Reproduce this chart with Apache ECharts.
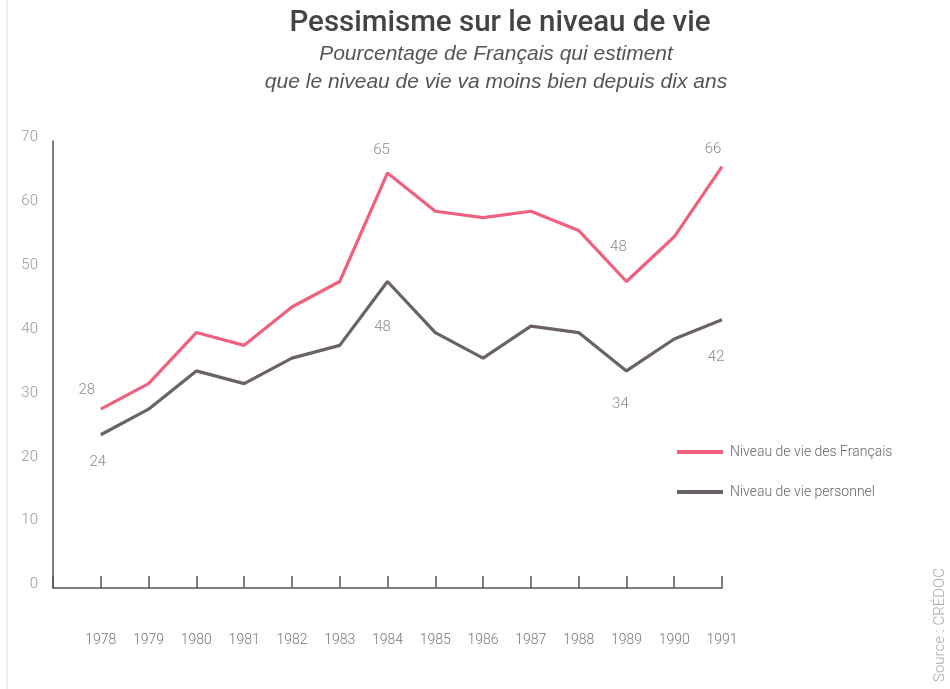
<!DOCTYPE html>
<html><head><meta charset="utf-8">
<script src="https://cdn.jsdelivr.net/npm/echarts@6/dist/echarts.min.js"></script>
<style>html,body{margin:0;padding:0;background:#fff}#c{width:950px;height:689px}</style>
</head><body><div id="c"></div>
<script>
const years = [1978,1979,1980,1981,1982,1983,1984,1985,1986,1987,1988,1989,1990,1991];
const francais = [28,32,40,38,44,48,65,59,58,59,56,48,55,66];
const personnel = [24,28,34,32,36,38,48,40,36,41,40,34,39,42];
const yTicks = [0,10,20,30,40,50,60,70];
const seriesNames = ['Niveau de vie des Français','Niveau de vie personnel'];
const titleText = 'Pessimisme sur le niveau de vie';
const subText = 'Pourcentage de Français qui estiment\nque le niveau de vie va moins bien depuis dix ans';
const sourceText = 'Source : CRÉDOC';

const font = "Roboto,'Liberation Sans',sans-serif";
const labFont = {color:'#8a8a8a', fontSize:15, fontWeight:300, fontFamily:font};

const pinkLabels = {0:{offset:[-14,-6]}, 6:{offset:[-6,-10]}, 11:{offset:[-8,-22]}, 13:{offset:[-9,-5]}};
const greyLabels = {0:{offset:[-3,15]}, 6:{offset:[-5,33]}, 11:{offset:[-6,21]}, 13:{offset:[-6,25]}};

function build(vals, lab, pos){
  return years.map((y,i)=>{
    const d = {value:[y, vals[i]]};
    if (lab[i]) d.label = Object.assign({show:true, position:pos, formatter:String(vals[i])}, labFont, lab[i]);
    return d;
  });
}

const chart = echarts.init(document.getElementById('c'), null, {renderer:'canvas'});
chart.setOption({
  backgroundColor:'#fff',
  animation:false,
  title:[{text:titleText, left:495, textAlign:'center', top:4,
    textStyle:{fontSize:29.5, fontWeight:500, color:'#444', fontFamily:"Roboto,'Liberation Sans',Arial,sans-serif"}},
    {text:subText, left:491, textAlign:'center', top:35,
    textStyle:{fontSize:21, fontStyle:'italic', fontWeight:'normal', color:'#555', lineHeight:28, fontFamily:"'Liberation Sans',Arial,sans-serif"}}],
  legend:{orient:'vertical', left:672, top:440, itemGap:26, itemWidth:46, itemHeight:4,
    icon:'rect', data:seriesNames,
    textStyle:{fontSize:14, fontWeight:300, color:'#666', fontFamily:font, padding:[0,0,0,2]}},
  grid:{left:53, right:228, top:141, bottom:101},
  xAxis:{type:'value', min:1977, max:1991, interval:1,
    axisLine:{show:true, lineStyle:{color:'#555', width:1.5}},
    axisTick:{show:true, inside:true, length:12, lineStyle:{color:'#555', width:1.5}},
    splitLine:{show:false},
    axisLabel:{margin:45, color:'#777', fontSize:14, fontWeight:300, fontFamily:font,
      formatter:v=> (v>=years[0] ? String(v) : '')}},
  yAxis:{type:'value', min:yTicks[0], max:yTicks[yTicks.length-1], interval:10,
    axisLine:{show:true, lineStyle:{color:'#555', width:1.5}},
    axisTick:{show:false}, splitLine:{show:false},
    axisLabel:{margin:15, color:'#999', fontSize:15, fontWeight:300, fontFamily:font, verticalAlign:'bottom', padding:[0,0,-4,0]}},
  series:[
    {name:seriesNames[0], type:'line', data:build(francais,pinkLabels,'top'), symbol:'circle', symbolSize:0, showSymbol:true,
      lineStyle:{color:'#f0607f', width:3.2}, itemStyle:{color:'#f0607f'}},
    {name:seriesNames[1], type:'line', data:build(personnel,greyLabels,'bottom'), symbol:'circle', symbolSize:0, showSymbol:true,
      lineStyle:{color:'#6a6266', width:3.2}, itemStyle:{color:'#6a6266'}}
  ],
  graphic:[
    {type:'text', x:933, y:682, rotation:Math.PI/2,
      style:{text:sourceText, fill:'#aaa', fontSize:15, fontWeight:300, fontFamily:font}},
    {type:'line', shape:{x1:7,y1:0,x2:7,y2:689}, style:{stroke:'#e2e2e2', lineWidth:1}}
  ]
});
</script></body></html>
